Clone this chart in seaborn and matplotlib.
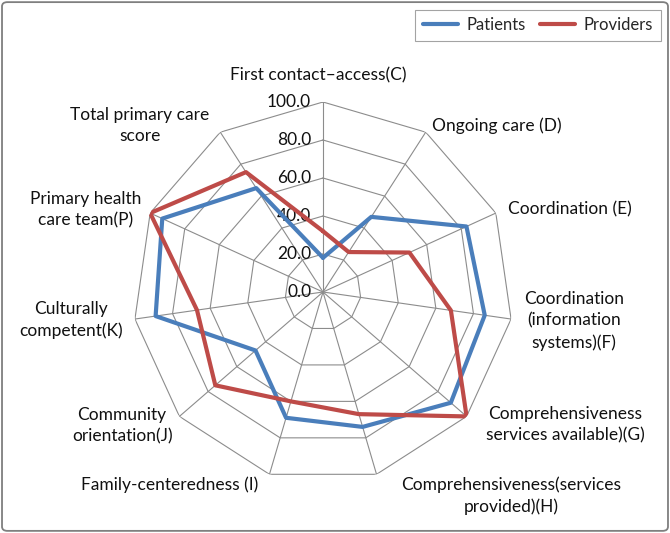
import numpy as np
import pandas as pd
import seaborn as sns
import matplotlib.pyplot as plt
from matplotlib.patches import FancyBboxPatch

# data
domains = ['First contact\u2013access(C)', 'Ongoing care (D)', 'Coordination (E)',
           'Coordination\n(information\nsystems)(F)',
           'Comprehensiveness\nservices available)(G)',
           'Comprehensiveness(services\nprovided)(H)',
           'Family-centeredness (I)', 'Community\norientation(J)',
           'Culturally\ncompetent(K)', 'Primary health\ncare team(P)',
           'Total primary care\nscore']
patients = [18, 47, 83, 86, 89, 74, 69, 47, 89, 93, 65]
providers = [32, 25, 50, 68, 100, 67, 60, 75, 67, 100, 75]
rings = [0, 20, 40, 60, 80, 100]
groups = ['Patients', 'Providers']

# label offsets from the outer vertex, in pixels (dx right, dy down)
label_offsets_px = [(-5, -27), (6, -6), (12, -4), (13, 2), (19, 8), (25, 21),
                    (-11, 10), (-7, 9), (-12, 1), (-9, -3), (-11, -7)]

sns.set_theme(style='white')
plt.rcParams['font.family'] = ['Lato', 'DejaVu Sans']
FS = 12.5
grid_col = '#8c8c8c'
colors = {'Patients': '#4a7ebb', 'Providers': '#be4b48'}

n = len(domains)
theta = np.linspace(0, 2 * np.pi, n, endpoint=False)
theta_closed = np.append(theta, theta[0])

rows = []
for g, vals in zip(groups, [patients, providers]):
    closed = list(vals) + [vals[0]]
    for i, (t, v) in enumerate(zip(theta_closed, closed)):
        rows.append({'theta': t, 'score': v, 'group': g, 'order': i})
df = pd.DataFrame(rows)

fig = plt.figure(figsize=(6.7, 5.33), dpi=100)
ax = fig.add_axes([133 / 670, (533 - 292 - 190) / 533, 380 / 670, 380 / 533],
                  projection='polar')
ax.set_theta_zero_location('N')
ax.set_theta_direction(-1)
ax.grid(False)
ax.spines['polar'].set_visible(False)
ax.set_xticks([])
ax.set_yticks([])

# polygon grid
for r in rings[1:]:
    ax.plot(theta_closed, [r] * (n + 1), color=grid_col, lw=0.8, zorder=1)
for t in theta:
    ax.plot([t, t], [0, 100], color=grid_col, lw=0.8, zorder=1)

sns.lineplot(data=df, x='theta', y='score', hue='group', palette=colors,
             sort=False, estimator=None, units='group', lw=3, ax=ax, zorder=3)
ax.set_ylim(0, 100)
ax.set_xlabel('')
ax.set_ylabel('')

# radial tick labels
for r in rings:
    ax.annotate(f'{r:.1f}', xy=(0, r), xytext=(-8.5, 0), textcoords='offset points',
                ha='right', va='center', fontsize=FS, color='#111111', zorder=2)

# category labels
for t, lab, (dx, dy) in zip(theta, domains, label_offsets_px):
    s = np.sin(t)
    ha = 'left' if s > 0.1 else ('right' if s < -0.1 else 'center')
    ax.annotate(lab, xy=(t, 100), xytext=(dx * 0.72, -dy * 0.72),
                textcoords='offset points', ha=ha, va='center',
                multialignment='center', linespacing=1.4, fontsize=FS,
                color='#111111', annotation_clip=False)

handles, labels = ax.get_legend_handles_labels()
ax.get_legend().remove()
leg = fig.legend(handles, labels, loc='center', bbox_to_anchor=(538 / 670, 1 - 25 / 533),
                 ncol=2, fontsize=FS - 0.5, frameon=True, fancybox=False,
                 handlelength=2.1, columnspacing=0.9, handletextpad=0.5,
                 borderpad=0.45)
leg.get_frame().set_edgecolor('#8c8c8c')
leg.get_frame().set_linewidth(0.8)

# outer chart border
fig.patches.append(FancyBboxPatch((0.003, 0.004), 0.994, 0.992,
                                  boxstyle='round,pad=0,rounding_size=0.008',
                                  transform=fig.transFigure, fill=False,
                                  ec='#7f7f7f', lw=1.3))

fig.savefig('out.png', dpi=100)
